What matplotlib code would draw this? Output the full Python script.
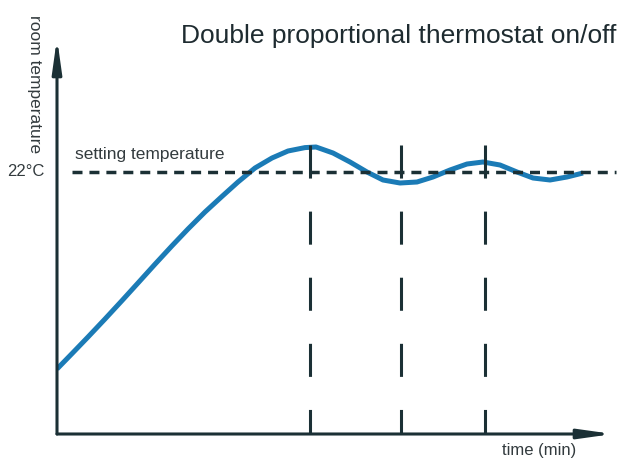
import numpy as np
import matplotlib
matplotlib.use('Agg')
import matplotlib.pyplot as plt

plt.rcParams['font.family'] = ['Liberation Sans', 'DejaVu Sans']
plt.rcParams['lines.scale_dashes'] = False

# room temperature curve (time in min, temperature in degC)
time_min = [0.0, 0.6, 1.24, 1.92, 2.6, 3.24, 3.92, 4.6, 5.24, 5.92, 6.6, 7.24, 7.92,
            8.6, 9.24, 9.92, 10.36, 11.04, 11.72, 12.4, 13.04, 13.72, 14.4, 15.04,
            15.72, 16.4, 17.04, 17.72, 18.4, 19.04, 19.72, 20.4, 21.04]
temp_c = [12.15, 12.92, 13.75, 14.65, 15.57, 16.45, 17.39, 18.31, 19.15, 20.0, 20.78,
          21.5, 22.2, 22.7, 23.05, 23.22, 23.25, 22.95, 22.5, 22.0, 21.6, 21.45,
          21.5, 21.75, 22.1, 22.4, 22.5, 22.35, 22.0, 21.7, 21.6, 21.75, 21.95]
setting_temp = 22
switch_times = [10.12, 13.76, 17.12]
switch_top = 23.35
t_max, y_min, y_max = 22.24, 8.9, 28.7

axis_col = '#1b3035'
curve_col = '#1b7bb6'
text_col = '#333b3e'

fig = plt.figure(figsize=(6.19, 4.59), dpi=100)
ax = fig.add_axes([57 / 619, 25 / 459, 556 / 619, 396 / 459])
ax.set_xlim(0, t_max)
ax.set_ylim(y_min, y_max)
ax.axis('off')

# curve
ax.plot(time_min, temp_c, color=curve_col, lw=3.6, solid_capstyle='butt',
        solid_joinstyle='round', zorder=2)

# setting temperature line
ax.plot([0.6, 22.36], [setting_temp, setting_temp], color=axis_col, lw=2.5,
        dashes=(7.2, 5.0), clip_on=False, zorder=3)

# switching instants
for t in switch_times:
    ax.plot([t, t], [switch_top, y_min], color=axis_col, lw=2.2,
            dashes=(23.8, 23.8), dash_capstyle='butt', zorder=3)

# axes arrows
arrow = dict(arrowstyle='-|>,head_length=2.0,head_width=0.28', color=axis_col,
             lw=2.2, mutation_scale=10, shrinkA=0, shrinkB=0)
ax.annotate('', xy=(0, y_max), xytext=(0, y_min), arrowprops=arrow,
            annotation_clip=False)
ax.annotate('', xy=(t_max, y_min), xytext=(0, y_min), arrowprops=arrow,
            annotation_clip=False)

fig.text(181 / 619, 1 - 43 / 459, 'Double proportional thermostat on/off',
         fontsize=19, color='#1e2b30', ha='left', va='baseline')
fig.text(75 / 619, 1 - 159 / 459, 'setting temperature', fontsize=12.5,
         color=text_col, ha='left', va='baseline')
fig.text(45 / 619, 1 - 172 / 459, '22°C', fontsize=12, color=text_col,
         ha='right', va='center')
fig.text(34 / 619, 1 - 84 / 459, 'room temperature', fontsize=12.5,
         color=text_col, rotation=-90, ha='center', va='center')
fig.text(539 / 619, 1 - 451 / 459, 'time (min)', fontsize=12, color=text_col,
         ha='center', va='center')

fig.savefig('out.png', dpi=100)
